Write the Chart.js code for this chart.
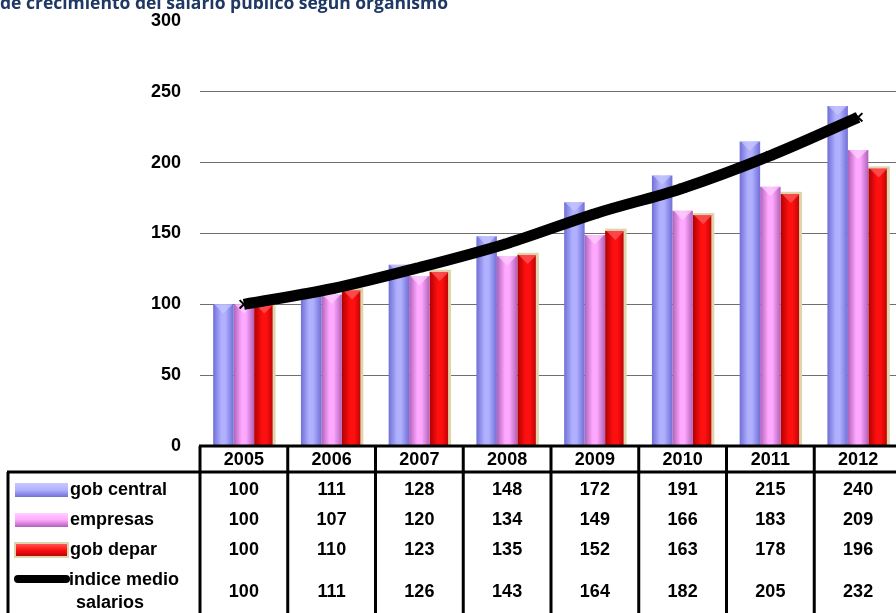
<!DOCTYPE html>
<html>
<head>
<meta charset="utf-8">
<script src="https://cdn.jsdelivr.net/npm/chart.js@4.4.0/dist/chart.umd.min.js"></script>
<style>
  html, body { margin: 0; padding: 0; background: #fff; overflow: hidden; }
  #wrap { position: relative; width: 910px; height: 613px; }
  #title {
    position: absolute; left: 0; top: -10px; white-space: nowrap;
    font: bold 17.5px "Open Sans", sans-serif; color: #1f3864;
  }
</style>
</head>
<body>
<div id="wrap">
  <canvas id="myChart"></canvas>
  <div id="title">de crecimiento del salario público según organismo</div>
</div>
<script>
const years = ["2005", "2006", "2007", "2008", "2009", "2010", "2011", "2012"];
const gobCentral = [100, 111, 128, 148, 172, 191, 215, 240];
const empresas = [100, 107, 120, 134, 149, 166, 183, 209];
const gobDepar = [100, 110, 123, 135, 152, 163, 178, 196];
const indiceMedio = [100, 111, 126, 143, 164, 182, 205, 232];
const yTicks = [0, 50, 100, 150, 200, 250, 300];

// colores de las barras: borde oscuro, centro claro
const barShades = [
  { edge: "#6f6fd6", mid: "#b0b0ff", top: "#c8c8ff" },
  { edge: "#b060b8", mid: "#ffa8ff", top: "#ffd0ff" },
  { edge: "#b00000", mid: "#ff1010", top: "#ff6060" },
];

const tableFont = "bold 18px 'Liberation Sans', Arial, sans-serif";

const barLook = {
  id: "barLook",
  beforeDatasetsDraw(chart) {
    const ctx = chart.ctx;
    chart.data.datasets.forEach((ds, di) => {
      if (ds.type === "line") return;
      const shade = barShades[di];
      chart.getDatasetMeta(di).data.forEach((el) => {
        const l = el.x - el.width / 2, r = el.x + el.width / 2;
        const g = ctx.createLinearGradient(l, 0, r, 0);
        g.addColorStop(0, shade.edge);
        g.addColorStop(0.4, shade.mid);
        g.addColorStop(0.6, shade.mid);
        g.addColorStop(1, shade.edge);
        el.options = Object.assign({}, el.options, { backgroundColor: g });
      });
    });
  },
  afterDatasetDraw(chart, args) {
    const ds = chart.data.datasets[args.index];
    if (ds.type === "line") return;
    const ctx = chart.ctx;
    const shade = barShades[args.index];
    ctx.save();
    args.meta.data.forEach((el) => {
      const l = el.x - el.width / 2, r = el.x + el.width / 2;
      const t = el.y;
      // bisel superior en forma de triangulo
      ctx.fillStyle = shade.top;
      ctx.globalAlpha = 0.7;
      ctx.beginPath();
      ctx.moveTo(l + 1, t);
      ctx.lineTo(r - 1, t);
      ctx.lineTo(el.x, t + el.width * 0.45);
      ctx.closePath();
      ctx.fill();
      ctx.globalAlpha = 1;
      if (args.index === 2) {
        ctx.fillStyle = "#ddd6ad";
        ctx.fillRect(r - 2, t, 3, el.base - t);
        ctx.fillRect(l, t - 2, el.width + 1, 2);
      }
    });
    ctx.restore();
  },
};

const dataTable = {
  id: "dataTable",
  afterDraw(chart) {
    const ctx = chart.ctx;
    const x = chart.scales.x;
    const area = chart.chartArea;
    const colW = x.width / years.length;
    const top = area.bottom;
    const headBottom = top + 26;
    const bottom = chart.height + 2;
    const leftEdge = 8;
    ctx.save();
    ctx.strokeStyle = "#000";
    ctx.lineWidth = 3;
    ctx.beginPath();
    ctx.moveTo(area.left - 1, top);
    ctx.lineTo(area.right, top);
    ctx.moveTo(leftEdge - 1, headBottom);
    ctx.lineTo(area.right, headBottom);
    ctx.moveTo(leftEdge, headBottom);
    ctx.lineTo(leftEdge, bottom);
    for (let i = 0; i <= years.length; i++) {
      const bx = area.left + i * colW;
      ctx.moveTo(bx, top);
      ctx.lineTo(bx, bottom);
    }
    ctx.stroke();

    ctx.fillStyle = "#000";
    ctx.font = tableFont;
    ctx.textAlign = "center";
    ctx.textBaseline = "middle";
    const rowsY = [490, 520, 550, 592];
    const rows = [gobCentral, empresas, gobDepar, indiceMedio];
    years.forEach((yr, i) => {
      const cx = x.getPixelForValue(i);
      ctx.fillText(yr, cx, top + 14);
      rows.forEach((row, ri) => ctx.fillText(String(row[i]), cx, rowsY[ri]));
    });

    // leyenda en la primera columna
    ctx.textAlign = "left";
    const names = chart.data.datasets.map((d) => d.label);
    for (let k = 0; k < 3; k++) {
      const y0 = rowsY[k];
      const g = ctx.createLinearGradient(0, y0 - 7, 0, y0 + 7);
      g.addColorStop(0, barShades[k].top);
      g.addColorStop(0.5, barShades[k].mid);
      g.addColorStop(1, barShades[k].edge);
      ctx.fillStyle = g;
      ctx.fillRect(15, y0 - 7, 53, 14);
      if (k === 2) {
        ctx.strokeStyle = "#ddd6ad";
        ctx.lineWidth = 2;
        ctx.strokeRect(15, y0 - 7, 53, 14);
      }
      ctx.fillStyle = "#000";
      ctx.fillText(names[k], 70, y0);
    }
    ctx.strokeStyle = "#000";
    ctx.lineWidth = 8;
    ctx.lineCap = "round";
    ctx.beginPath();
    ctx.moveTo(18, 579);
    ctx.lineTo(66, 579);
    ctx.stroke();
    ctx.fillText("indice medio", 69, 580);
    ctx.fillText("salarios", 76, 603);
    ctx.restore();
  },
};

const ctx = document.getElementById("myChart");
new Chart(ctx, {
  type: "bar",
  data: {
    labels: years,
    datasets: [
      { label: "gob central", data: gobCentral, order: 1, borderWidth: 0 },
      { label: "empresas", data: empresas, order: 1, borderWidth: 0 },
      { label: "gob depar", data: gobDepar, order: 1, borderWidth: 0 },
      {
        type: "line",
        label: "indice medio salarios",
        data: indiceMedio,
        order: 0,
        borderColor: "#000",
        borderWidth: 11,
        tension: 0.35,
        pointStyle: "crossRot",
        pointRadius: 6,
        pointBorderWidth: 2,
        pointBorderColor: "#000",
        fill: false,
      },
    ],
  },
  options: {
    responsive: true,
    maintainAspectRatio: false,
    animation: false,
    layout: { padding: { top: 21, right: 0, left: 0, bottom: 0 } },
    datasets: { bar: { categoryPercentage: 0.7, barPercentage: 1.0 } },
    plugins: { legend: { display: false }, tooltip: { enabled: false } },
    scales: {
      x: {
        offset: true,
        grid: { display: false },
        border: { display: false },
        ticks: { display: false },
        afterFit(scale) { scale.height = 167; },
      },
      y: {
        min: 0,
        max: 300,
        afterBuildTicks(scale) { scale.ticks = yTicks.map((v) => ({ value: v })); },
        grid: {
          drawTicks: false,
          color: (c) => (c.tick && (c.tick.value === 300 || c.tick.value === 0) ? "rgba(0,0,0,0)" : "#6e6e6e"),
          lineWidth: 1,
        },
        border: { display: false },
        ticks: {
          padding: 19,
          color: "#000",
          font: { family: "'Liberation Sans', Arial, sans-serif", size: 18, weight: "bold" },
        },
        afterFit(scale) {
          scale.width = 200;
          scale.paddingTop = 0;
          scale.paddingBottom = 0;
        },
      },
    },
  },
  plugins: [barLook, dataTable],
});
</script>
</body>
</html>
